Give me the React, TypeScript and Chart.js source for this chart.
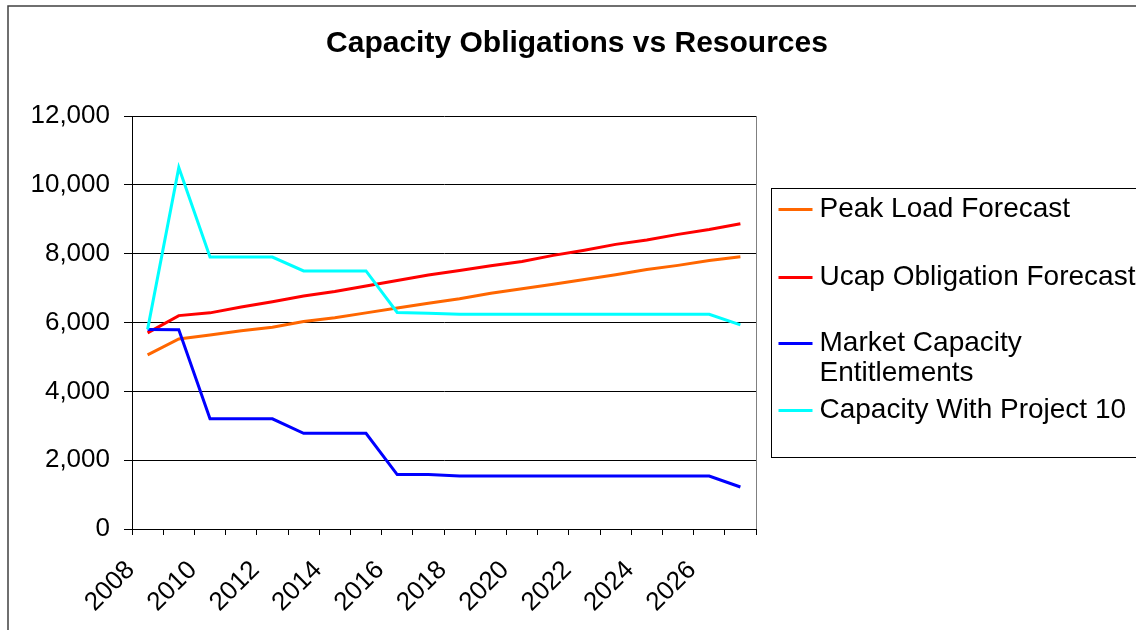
import React, { useEffect, useRef } from 'react';
import { Chart, registerables } from 'chart.js';

Chart.register(...registerables);

const FONT = '"Liberation Sans", Arial, Helvetica, sans-serif';

const years = ['2008', '2009', '2010', '2011', '2012', '2013', '2014', '2015', '2016', '2017',
  '2018', '2019', '2020', '2021', '2022', '2023', '2024', '2025', '2026', '2027'];

const peakLoadForecast = [5060, 5520, 5640, 5760, 5860, 6030, 6140, 6280, 6420, 6560,
  6690, 6850, 6980, 7110, 7250, 7390, 7540, 7660, 7800, 7910];

const ucapObligationForecast = [5700, 6200, 6280, 6450, 6600, 6770, 6900, 7060, 7220, 7380,
  7510, 7650, 7770, 7950, 8100, 8270, 8400, 8560, 8700, 8870];

const marketCapacityEntitlements = [5800, 5790, 3200, 3200, 3200, 2780, 2780, 2780, 1580, 1580,
  1540, 1540, 1540, 1540, 1540, 1540, 1540, 1540, 1540, 1220];

const capacityWithProject10 = [5800, 10500, 7900, 7900, 7900, 7500, 7500, 7500, 6290, 6270,
  6240, 6240, 6240, 6240, 6240, 6240, 6240, 6240, 6240, 5930];

const seriesNames = ['Peak Load Forecast', 'Ucap Obligation Forecast', 'Market Capacity Entitlements', 'Capacity With Project 10'];
const seriesColors = ['#FF6600', '#FF0000', '#0000FF', '#00FFFF'];

const yMin = 0;
const yMax = 12000;
const yStep = 2000;

const chartTitle = 'Capacity Obligations vs Resources';

function wrapText(ctx: CanvasRenderingContext2D, text: string, maxWidth: number): string[] {
  const words = text.split(' ');
  const lines: string[] = [];
  let cur = '';
  for (const w of words) {
    const test = cur ? cur + ' ' + w : w;
    if (ctx.measureText(test).width > maxWidth && cur) {
      lines.push(cur);
      cur = w;
    } else {
      cur = test;
    }
  }
  if (cur) lines.push(cur);
  return lines;
}

const decorPlugin = {
  id: 'decor',
  afterDraw(chart: any) {
    const ctx: CanvasRenderingContext2D = chart.ctx;
    const { right, top, bottom } = chart.chartArea;
    ctx.save();
    // outer chart border (left + top)
    ctx.strokeStyle = '#404040';
    ctx.lineWidth = 1.5;
    ctx.beginPath();
    ctx.moveTo(8, 700);
    ctx.lineTo(8, 6);
    ctx.lineTo(1200, 6);
    ctx.stroke();

    // plot area right border
    ctx.strokeStyle = '#808080';
    ctx.lineWidth = 1;
    ctx.beginPath();
    ctx.moveTo(Math.round(right) + 0.5, top);
    ctx.lineTo(Math.round(right) + 0.5, bottom);
    ctx.stroke();

    // legend
    const boxX = Math.round(right) + 15.5;
    const boxY = 188.5;
    const boxH = 269;
    ctx.strokeStyle = '#000';
    ctx.lineWidth = 1;
    ctx.strokeRect(boxX, boxY, 500, boxH);

    const entryY = [21, 89, 155, 222];
    ctx.font = `28px ${FONT}`;
    ctx.textBaseline = 'middle';
    ctx.textAlign = 'left';
    const textX = boxX + 48;
    chart.data.datasets.forEach((ds: any, i: number) => {
      const cy = boxY + entryY[i];
      ctx.strokeStyle = ds.borderColor;
      ctx.lineWidth = 3;
      ctx.beginPath();
      ctx.moveTo(boxX + 7, cy);
      ctx.lineTo(boxX + 41, cy);
      ctx.stroke();
      ctx.fillStyle = '#000';
      const lines = wrapText(ctx, ds.label, 335);
      lines.forEach((ln, j) => ctx.fillText(ln, textX, cy + j * 30));
    });
    ctx.restore();
  },
};

export default function App() {
  const canvasRef = useRef<HTMLCanvasElement | null>(null);

  useEffect(() => {
    if (!canvasRef.current) return;
    const seriesData = [peakLoadForecast, ucapObligationForecast, marketCapacityEntitlements, capacityWithProject10];
    const chart = new Chart(canvasRef.current, {
      type: 'line',
      data: {
        labels: years,
        datasets: seriesData.map((d, i) => ({
          label: seriesNames[i],
          data: d,
          borderColor: seriesColors[i],
          backgroundColor: seriesColors[i],
          borderWidth: 3,
          pointRadius: 0,
          tension: 0,
          fill: false,
          order: 3 - i,
        })),
      },
      options: {
        animation: false,
        responsive: true,
        maintainAspectRatio: false,
        layout: { padding: { left: 18, right: 0, top: 0, bottom: 0 } },
        plugins: {
          legend: { display: false },
          tooltip: { enabled: false },
          title: {
            display: true,
            text: chartTitle,
            color: '#000',
            font: { family: FONT, size: 30, weight: 'bold', lineHeight: 1.2 },
            padding: { top: 26, bottom: 54 },
          },
        },
        scales: {
          x: {
            type: 'category',
            offset: true,
            grid: { offset: true, drawOnChartArea: false, drawTicks: true, tickLength: 6, color: '#000' },
            border: { color: '#000', width: 1 },
            ticks: {
              autoSkip: false,
              minRotation: 45,
              maxRotation: 45,
              padding: 20,
              labelOffset: -17,
              color: '#000',
              font: { family: FONT, size: 26 },
              callback: (_v: any, i: number) => (i % 2 === 0 ? years[i] : ''),
            },
            afterFit: (s: any) => { s.height = 101; },
          },
          y: {
            min: yMin,
            max: yMax,
            ticks: {
              stepSize: yStep,
              padding: 14,
              color: '#000',
              font: { family: FONT, size: 26 },
              callback: (v: any) => Number(v).toLocaleString('en-US'),
            },
            grid: { color: '#000', lineWidth: 1, tickLength: 8, drawTicks: true },
            border: { color: '#000', width: 1 },
            afterFit: (s: any) => { s.width = 114; },
          },
          ySpace: {
            position: 'right',
            display: true,
            min: yMin,
            max: yMax,
            grid: { display: false, drawOnChartArea: false },
            border: { display: false },
            ticks: { display: false },
            afterFit: (s: any) => { s.width = 380; },
          },
        },
      },
      plugins: [decorPlugin],
    } as any);
    return () => chart.destroy();
  }, []);

  return (
    <div style={{ position: 'absolute', left: 0, top: 0, width: 1136, height: 630, background: '#fff' }}>
      <canvas ref={canvasRef} />
    </div>
  );
}
